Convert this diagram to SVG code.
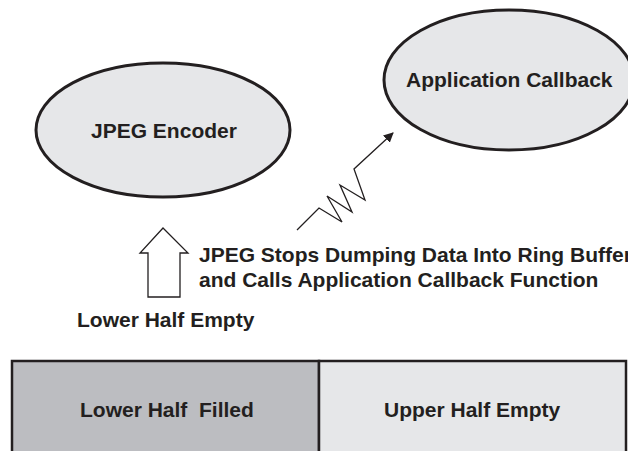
<svg xmlns="http://www.w3.org/2000/svg" width="628" height="451" viewBox="0 0 628 451">
  <style>
    text { font-family: "Liberation Sans", Arial, sans-serif; font-weight: bold; font-size: 21px; fill: #231f20; white-space: pre; }
    .node { fill: #e6e7e9; stroke: #231f20; stroke-width: 3; }
    .wire { fill: none; stroke: #231f20; stroke-width: 1.3; stroke-linejoin: miter; }
  </style>
  <defs>
    <marker id="head" viewBox="0 0 10 10" refX="9" refY="5" markerWidth="10" markerHeight="10" markerUnits="userSpaceOnUse" orient="auto">
      <path d="M0,0 L10,5 L0,10 z" fill="#231f20"/>
    </marker>
  </defs>

  <rect width="628" height="451" fill="#ffffff"/>

  <g id="jpeg-encoder">
    <ellipse class="node" cx="163" cy="130" rx="127" ry="67"/>
    <text x="91" y="138">JPEG Encoder</text>
  </g>

  <g id="application-callback">
    <ellipse class="node" cx="509" cy="80" rx="125" ry="70"/>
    <text x="406" y="87">Application Callback</text>
  </g>

  <g id="ring-buffer">
    <rect x="12" y="361" width="307" height="110" fill="#bcbdc1" stroke="#231f20" stroke-width="2.5"/>
    <rect x="319" y="361" width="307" height="110" fill="#e6e7e9" stroke="#231f20" stroke-width="2.5"/>
    <text x="80" y="417">Lower Half  Filled</text>
    <text x="384" y="417">Upper Half Empty</text>
  </g>

  <g id="connectors">
    <!-- hollow block arrow: lower half empty -->
    <polygon class="wire" fill="#ffffff" points="163,228 188,253 180,253 180,297 148,297 148,253 140,253"/>
    <!-- zig-zag signal to the callback -->
    <polyline class="wire" points="297,230 319,208 342,222 327,196 352,212 340,185 365,200 354,169 393,133" marker-end="url(#head)"/>
  </g>

  <g id="labels">
    <text x="199" y="262">JPEG Stops Dumping Data Into Ring Buffer</text>
    <text x="199" y="287">and Calls Application Callback Function</text>
    <text x="77" y="327">Lower Half Empty</text>
  </g>
</svg>
